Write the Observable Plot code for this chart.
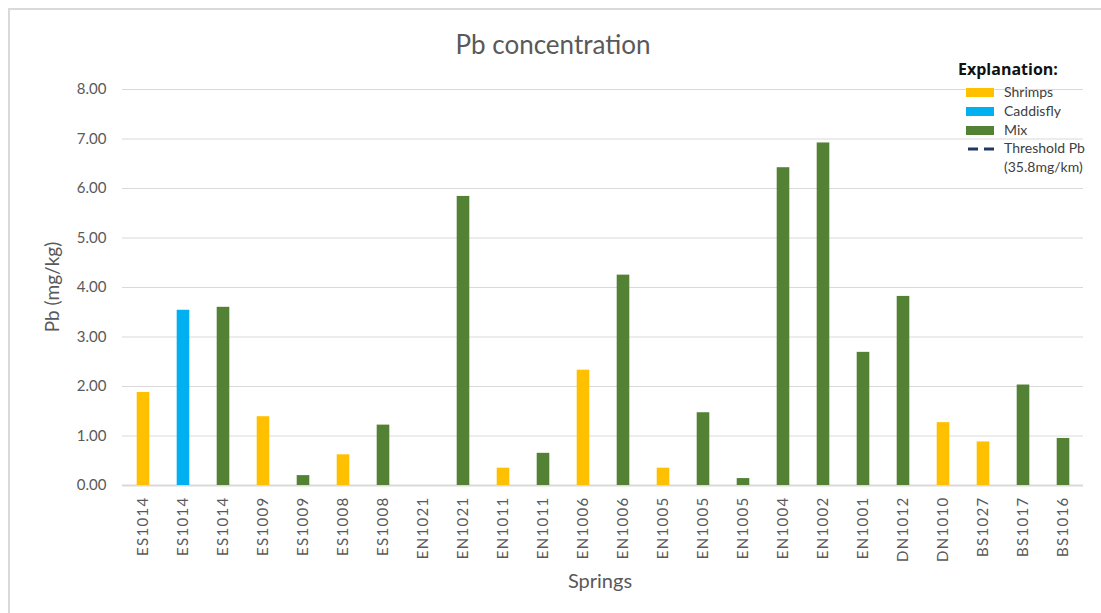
<!DOCTYPE html>
<html>
<head>
<meta charset="utf-8">
<script src="https://cdn.jsdelivr.net/npm/d3@7"></script>
<script src="https://cdn.jsdelivr.net/npm/@observablehq/plot@0.6"></script>
<style>
  html, body { margin: 0; padding: 0; background: #fff; }
  #wrap { position: relative; width: 1101px; height: 613px; font-family: Lato, "Open Sans", sans-serif; color: #595959; overflow: hidden; }
  #border { position: absolute; left: 8px; top: 8px; width: 1110px; height: 620px; border: 2px solid #d9d9d9; box-sizing: border-box; }
  .abs { position: absolute; white-space: nowrap; }
  #title { left: 0; width: 1106px; top: 28px; text-align: center; font-size: 26px; }
  #ylab { left: 51px; top: 287px; font-size: 19px; transform: translate(-50%, -50%) rotate(-90deg); }
  #xlab { left: 0; width: 1200px; top: 568px; text-align: center; font-size: 20px; }
  #leg-title { left: 958px; top: 58px; font-weight: bold; font-size: 16px; color: #111; font-family: "Open Sans", sans-serif; }
  .sw { position: absolute; width: 28px; height: 9px; }
  .lt { position: absolute; font-size: 14px; color: #404040; }
  #chart g[aria-label="x-axis tick label"] text { letter-spacing: 1.3px; }
</style>
</head>
<body>
<div id="wrap">
  <div id="border"></div>
  <div id="chart" class="abs" style="left:0;top:0"></div>
  <div id="title" class="abs">Pb concentration</div>
  <div id="ylab" class="abs">Pb (mg/kg)</div>
  <div id="xlab" class="abs">Springs</div>
  <div id="leg-title" class="abs">Explanation:</div>
  <div id="legend"></div>
</div>
<script>
const springs = ["ES1014","ES1014","ES1014","ES1009","ES1009","ES1008","ES1008","EN1021","EN1021","EN1011","EN1011","EN1006","EN1006","EN1005","EN1005","EN1005","EN1004","EN1002","EN1001","DN1012","DN1010","BS1027","BS1017","BS1016"];
const types = ["Shrimps","Caddisfly","Mix","Shrimps","Mix","Shrimps","Mix","Mix","Mix","Shrimps","Mix","Shrimps","Mix","Shrimps","Mix","Mix","Mix","Mix","Mix","Mix","Shrimps","Shrimps","Mix","Mix"];
const pb = [1.88,3.54,3.60,1.39,0.20,0.62,1.22,0,5.84,0.35,0.65,2.33,4.25,0.35,1.47,0.14,6.42,6.92,2.69,3.82,1.27,0.88,2.03,0.95];
const yTicks = [0,1,2,3,4,5,6,7,8];
const legendNames = ["Shrimps","Caddisfly","Mix"];
const legendColors = ["#ffc000","#00b0f0","#548235"];
const thresholdLabel = ["Threshold Pb","(35.8mg/km)"];

const data = pb.map((v, i) => ({i, spring: springs[i], type: types[i], v}));

const chart = Plot.plot({
  width: 1101,
  height: 613,
  marginLeft: 122,
  marginRight: 18,
  marginTop: 89,
  marginBottom: 128,
  style: {fontFamily: "Lato, 'Open Sans', sans-serif", color: "#595959", background: "transparent"},
  x: {type: "band", domain: d3.range(springs.length), padding: 0},
  y: {domain: [0, 8]},
  color: {domain: legendNames, range: legendColors},
  marks: [
    Plot.gridY(yTicks, {stroke: "#d9d9d9", strokeOpacity: 1, strokeWidth: 1}),
    Plot.ruleY([0], {stroke: "#d9d9d9", strokeWidth: 2}),
    Plot.barY(data, {x: "i", y: "v", fill: "type", insetLeft: 13.7, insetRight: 13.7}),
    Plot.axisY(yTicks, {tickSize: 0, tickPadding: 16, tickFormat: d3.format(".2f"), fontSize: 15, label: null, fill: "#595959"}),
    Plot.axisX({tickSize: 0, tickPadding: 11, tickRotate: -90, tickFormat: i => springs[i], fontSize: 15, label: null, fill: "#595959"})
  ]
});
document.getElementById("chart").appendChild(chart);

const leg = document.getElementById("legend");
const rows = [93, 112, 131];
legendNames.forEach((n, k) => {
  const s = document.createElement("div");
  s.className = "sw";
  s.style.left = "966px"; s.style.top = (rows[k] - 5) + "px"; s.style.background = legendColors[k];
  leg.appendChild(s);
  const t = document.createElement("div");
  t.className = "lt";
  t.style.left = "1004px"; t.style.top = (rows[k] - 10) + "px"; t.textContent = n;
  leg.appendChild(t);
});
const svgNS = "http://www.w3.org/2000/svg";
const dash = document.createElementNS(svgNS, "svg");
dash.setAttribute("width", "32"); dash.setAttribute("height", "6");
dash.style.position = "absolute"; dash.style.left = "966px"; dash.style.top = "146px";
const ln = document.createElementNS(svgNS, "line");
ln.setAttribute("x1", "2"); ln.setAttribute("x2", "30"); ln.setAttribute("y1", "3"); ln.setAttribute("y2", "3");
ln.setAttribute("stroke", "#1f3864"); ln.setAttribute("stroke-width", "3"); ln.setAttribute("stroke-dasharray", "10,6");
dash.appendChild(ln);
leg.appendChild(dash);
thresholdLabel.forEach((txt, k) => {
  const t = document.createElement("div");
  t.className = "lt";
  t.style.left = "1004px"; t.style.top = (139 + k * 19) + "px"; t.textContent = txt;
  leg.appendChild(t);
});
</script>
</body>
</html>
